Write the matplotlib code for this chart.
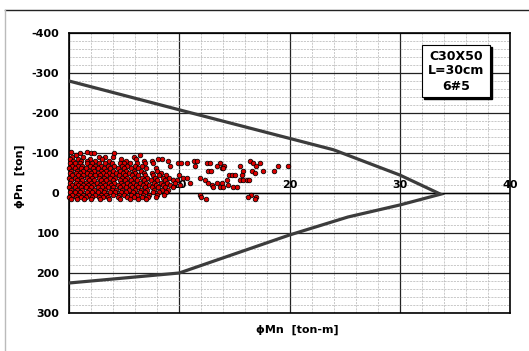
import numpy as np
import matplotlib
matplotlib.use('Agg')
import matplotlib.pyplot as plt
from matplotlib.patches import Rectangle
from matplotlib.lines import Line2D

# interaction diagram envelope (phiMn [ton-m], phiPn [ton])
env_mn = [0.0, 10.0, 24.0, 30.0, 33.7, 30.0, 25.3, 20.0, 10.0, 0.0]
env_pn = [-280, -208, -108, -45, 3, 30, 60, 105, 200, 225]

# load cases, grouped in rows of roughly equal phiPn
scatter_rows = [
    (-103, [0.2, 1.6]),
    (-99, [1.0, 2.0, 2.3, 4.1]),
    (-94, [0.6, 6.4]),
    (-89, [0.3, 1.3, 2.7, 3.3, 5.9, 4.0]),
    (-84, [0.1, 0.8, 1.9, 3.0, 4.7, 6.1, 8.4, 8.1]),
    (-79, [0.4, 1.1, 1.6, 2.4, 3.6, 5.2, 6.8, 7.5, 9.0, 11.3, 11.6, 16.4]),
    (-74, [0.1, 0.5, 1.0, 1.6, 2.1, 2.7, 3.3, 3.9, 4.6, 5.0, 5.5, 6.2, 6.9,
           7.6, 9.9, 10.2, 10.7, 12.5, 12.8, 13.7, 16.7, 17.3]),
    (-68, [0.3, 0.8, 1.2, 1.9, 2.4, 2.9, 3.5, 4.1, 4.8, 5.3, 6.0, 6.6, 9.2,
           11.4, 13.4, 14.1, 15.5, 19.0, 19.9, 17.0]),
    (-62, [0.0, 0.5, 1.1, 1.5, 2.2, 2.6, 3.2, 3.7, 4.4, 5.0, 5.6, 6.3, 7.0,
           7.9, 13.9, 14.0]),
    (-56, [0.2, 0.7, 1.3, 1.8, 2.3, 2.9, 3.4, 4.0, 4.6, 5.2, 5.9, 6.5, 8.0,
           12.6, 12.9, 15.8, 16.6, 17.6, 18.6]),
    (-50, [0.1, 0.6, 1.0, 1.6, 2.0, 2.6, 3.1, 3.6, 4.3, 4.9, 5.4, 6.0, 6.8,
           7.5, 8.3, 16.9]),
    (-44, [0.3, 0.8, 1.3, 1.9, 2.4, 2.8, 3.4, 3.9, 4.5, 5.1, 5.7, 6.3, 6.9,
           7.6, 8.2, 8.8, 10.0, 14.5, 14.8, 15.1, 15.7]),
    (-38, [0.0, 0.5, 1.1, 1.6, 2.1, 2.7, 3.2, 3.7, 4.2, 4.8, 5.3, 5.9, 6.6,
           7.1, 7.8, 8.5, 9.1, 10.3, 10.7, 11.9]),
    (-32, [0.2, 0.7, 1.2, 1.8, 2.3, 2.9, 3.4, 4.0, 4.6, 5.1, 5.6, 6.2, 6.8,
           7.4, 8.0, 8.7, 9.4, 9.8, 12.3, 14.3, 15.5, 15.8, 16.1, 16.3]),
    (-26, [0.1, 0.6, 1.0, 1.5, 2.0, 2.5, 3.1, 3.6, 4.1, 4.7, 5.3, 5.8, 6.4,
           7.0, 7.7, 8.3, 8.9, 9.6, 11.0, 12.6, 13.4, 13.9]),
    (-20, [0.3, 0.8, 1.3, 1.7, 2.2, 2.8, 3.3, 3.8, 4.4, 4.9, 5.5, 6.1, 6.7,
           7.3, 7.9, 8.5, 9.2, 10.1, 13.0, 14.4]),
    (-14, [0.0, 0.5, 1.1, 1.5, 2.0, 2.6, 3.0, 3.5, 4.0, 4.6, 5.2, 5.7, 6.3,
           6.9, 7.5, 8.1, 8.7, 9.4, 13.1, 13.7, 14.0, 14.9, 15.2]),
    (-8, [0.2, 0.7, 1.2, 1.8, 2.3, 2.8, 3.3, 3.9, 4.3, 4.8, 5.4, 6.0, 6.5,
          7.1, 7.7, 8.4, 9.0]),
    (-2, [0.1, 0.5, 1.0, 1.6, 2.1, 2.6, 3.2, 3.7, 4.2, 4.7, 5.2, 5.8, 6.4,
          6.9, 7.6, 8.2, 8.8]),
    (4, [0.3, 0.8, 1.3, 1.8, 2.4, 2.9, 3.4, 4.0, 4.5, 5.0, 5.6, 6.2, 6.7,
         7.3, 8.0, 8.6, 11.9, 16.5]),
    (10, [0.0, 0.6, 1.1, 1.5, 2.1, 2.7, 3.1, 3.5, 4.4, 5.3, 5.9, 6.6, 7.2,
          7.9, 12.0, 16.2, 17.0]),
    (16, [0.2, 0.7, 1.4, 2.0, 2.8, 3.6, 4.6, 5.5, 6.3, 7.0, 12.4, 16.9]),
]

x_ticks = [10, 20, 30, 40]
y_ticks = [-400, -300, -200, -100, 0, 100, 200, 300]
box_text = "C30X50\nL=30cm\n6#5"

plt.rcParams['font.family'] = 'DejaVu Sans'
plt.rcParams['font.weight'] = 'bold'

fig = plt.figure(figsize=(5.29, 3.51), dpi=100)
ax = fig.add_axes([69 / 529, 1 - 313 / 351, 441 / 529, 280 / 351])

ax.set_xlim(0, 40)
ax.set_ylim(300, -400)

# grid
ax.set_xticks(np.arange(0, 41, 10))
ax.set_xticks(np.arange(0, 41, 2), minor=True)
ax.set_yticks(y_ticks)
ax.set_yticks(np.arange(-400, 301, 20), minor=True)
ax.grid(which='minor', color='#b4b4b4', lw=0.5, ls=(0, (3, 1.5)), zorder=0)
ax.grid(which='major', color='#222222', lw=0.9, zorder=0.5)
ax.set_axisbelow(True)
ax.axhline(0, color='black', lw=1.0, zorder=0.6)

ax.tick_params(which='both', length=0)
ax.tick_params(axis='x', labelbottom=False)
ax.set_yticklabels([str(v) for v in y_ticks], fontsize=8, fontweight='bold')
ax.tick_params(axis='y', pad=7)
for sp in ax.spines.values():
    sp.set_linewidth(1.2)
    sp.set_color('black')

# x tick labels sit just above the zero line
for v in x_ticks:
    ax.text(v, -8, str(v), ha='center', va='bottom', fontsize=8,
            fontweight='bold', zorder=1)

sx, sy = [], []
for pn, mns in scatter_rows:
    for mn in mns:
        sx.append(mn)
        sy.append(pn)
ax.scatter(sx, sy, s=11, c='#dd0000', edgecolors='black', linewidths=0.55,
           zorder=3, clip_on=False)

ax.plot(env_mn, env_pn, color='#3c3c3c', lw=2.3, zorder=4,
        solid_joinstyle='miter')

# info box with shadow
bx0, bx1 = (422 - 69) / 441, (490 - 69) / 441
by0, by1 = 1 - (97 - 33) / 280, 1 - (45 - 33) / 280
ax.add_patch(Rectangle((bx0 + 0.005, by0 - 0.008), bx1 - bx0, by1 - by0,
                       transform=ax.transAxes, facecolor='black',
                       edgecolor='black', zorder=5))
ax.add_patch(Rectangle((bx0, by0), bx1 - bx0, by1 - by0,
                       transform=ax.transAxes, facecolor='white',
                       edgecolor='black', lw=0.8, zorder=6))
ax.text((bx0 + bx1) / 2, (by0 + by1) / 2, box_text, transform=ax.transAxes,
        ha='center', va='center', fontsize=9, fontweight='bold',
        linespacing=1.2, zorder=7)

fig.text(297 / 529, 1 - 330 / 351, "ϕMn  [ton-m]", ha='center',
         va='center', fontsize=8, fontweight='bold')
fig.text(20 / 529, 1 - 176 / 351, "ϕPn  [ton]", ha='center', va='center',
         rotation=90, fontsize=8, fontweight='bold')

# outer chart frame
fig.add_artist(Line2D([5 / 529, 1], [1 - 10 / 351, 1 - 10 / 351],
                      color='#222222', lw=1.0, transform=fig.transFigure))
fig.add_artist(Line2D([5 / 529, 5 / 529], [0, 1 - 10 / 351],
                      color='#bbbbbb', lw=1.0, transform=fig.transFigure))

fig.savefig('out.png', dpi=100)
